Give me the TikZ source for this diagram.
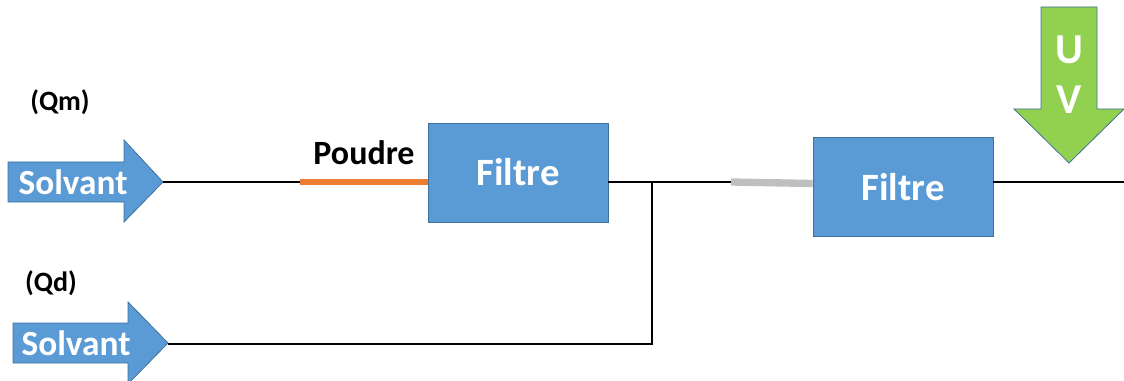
\documentclass[tikz,border=0pt]{standalone}
\usepackage{fontspec}
\setmainfont{Carlito}
\definecolor{boxblue}{HTML}{5B9BD5}
\definecolor{boxedge}{HTML}{41719C}
\definecolor{powder}{HTML}{ED7D31}
\definecolor{pipegray}{HTML}{BFBFBF}
\definecolor{uvgreen}{HTML}{92D050}
\tikzset{
  pipe/.style={line width=2.1pt},
  filtre/.style={draw=boxedge, fill=boxblue, line width=0.6pt, minimum width=135pt, minimum height=74.25pt, text=white, font=\bfseries\fontsize{29}{34}\selectfont},
  flowarrow/.style={draw=boxedge, fill=boxblue, line width=0.6pt},
  arrowtext/.style={text=white, font=\bfseries\fontsize{26.5}{31}\selectfont},
  flowlabel/.style={text=black, font=\bfseries\fontsize{21}{25}\selectfont}
}
\begin{document}
\begin{tikzpicture}[x=0.75pt, y=-0.75pt]
  \useasboundingbox (0,0) rectangle (1124,381);
  \clip (0,0) rectangle (1124,381);

  % Solvant (Qm)
  \draw[flowarrow] (8,162) -- (124,162) -- (124,140) -- (163,182) -- (124,222) -- (124,202) -- (8,202) -- cycle;
  \coordinate (tipm) at (163,182);
  \node[arrowtext] (solvm) at (73,182) {Solvant};
  \node[flowlabel] (qm) at (60,102) {(Qm)};

  % Solvant (Qd)
  \draw[flowarrow] (13,323) -- (128,323) -- (128,302) -- (168,343) -- (128,384) -- (128,363) -- (13,363) -- cycle;
  \coordinate (tipd) at (168,343);
  \node[arrowtext] (solvd) at (76,343) {Solvant};
  \node[flowlabel] (qd) at (51,283) {(Qd)};

  % Filters
  \node[filtre] (f1) at (518,172.5) {Filtre};
  \node[filtre] (f2) at (903,187) {Filtre};

  % Pipes
  \coordinate (pstart) at (300,182);
  \coordinate (junction) at (652,182);
  \coordinate (corner) at (652,344);
  \coordinate (gstart) at (731,182);
  \coordinate (outlet) at (1124,182);
  \draw[pipe] (tipm) -- (pstart);
  \draw[powder, line width=5.2pt] (pstart) -- (f1.west |- pstart);
  \node[flowlabel, font=\bfseries\fontsize{25.5}{30}\selectfont] (poudre) at (364,153) {Poudre};
  \draw[pipe] (f1.east |- junction) -- (junction) -- (gstart);
  \draw[pipe] (junction) -- (corner) -- (tipd |- corner);
  \draw[pipegray, line width=5.5pt] (gstart) -- (f2.west |- 0,183.5);
  \draw[pipe] (f2.east |- outlet) -- (outlet);

  % UV
  \draw[flowarrow, fill=uvgreen] (1041,7) -- (1097,7) -- (1097,109) -- (1124,109) -- (1069,163) -- (1014,109) -- (1041,109) -- cycle;
  \node[text=white, font=\bfseries\fontsize{32}{36}\selectfont] (u) at (1069,50) {U};
  \node[text=white, font=\bfseries\fontsize{32}{36}\selectfont] (v) at (1069,100) {V};
\end{tikzpicture}
\end{document}
